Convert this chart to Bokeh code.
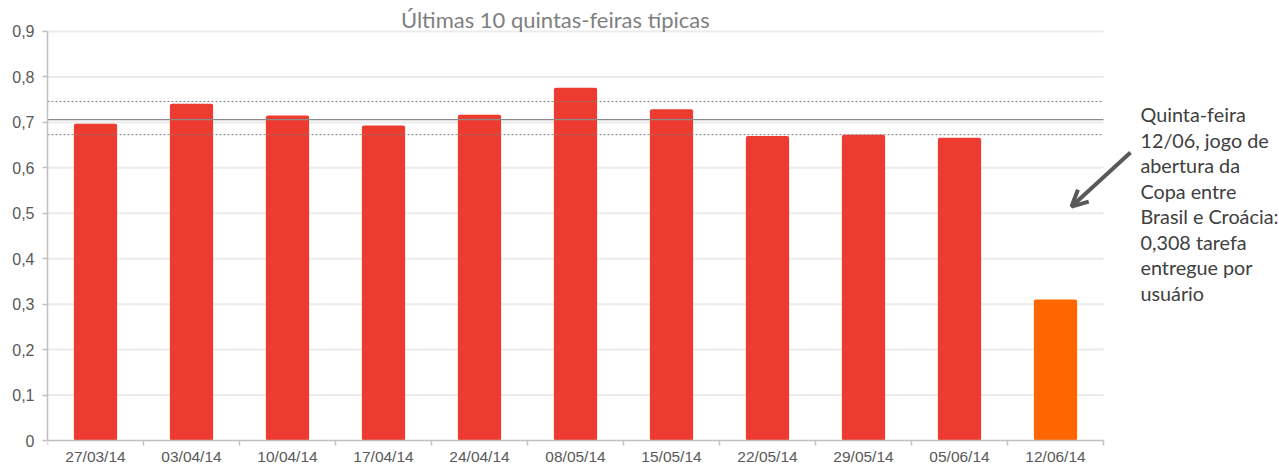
from bokeh.plotting import figure
from bokeh.models import (Range1d, FixedTicker, CustomJSTickFormatter,
                          Label, Arrow, OpenHead, ColumnDataSource)
from bokeh.embed import file_html
from bokeh.resources import INLINE

# ---- data ----
dates = ["27/03/14", "03/04/14", "10/04/14", "17/04/14", "24/04/14", "08/05/14",
         "15/05/14", "22/05/14", "29/05/14", "05/06/14", "12/06/14"]
values = [0.697, 0.741, 0.715, 0.693, 0.717, 0.776, 0.729, 0.670, 0.673, 0.666, 0.31]
bar_colors = ["#EE3B2F"] * 10 + ["#FF6600"]
mean_value = 0.706
upper_band = 0.746
lower_band = 0.673
y_ticks = [0, 0.1, 0.2, 0.3, 0.4, 0.5, 0.6, 0.7, 0.8, 0.9]
title_text = "Últimas 10 quintas-feiras típicas"
note_lines = ["Quinta-feira", "12/06, jogo de", "abertura da", "Copa entre",
              "Brasil e Croácia:", "0,308 tarefa", "entregue por", "usuário"]

n = len(dates)
y_max = y_ticks[-1]
centers = [i + 0.5 for i in range(n)]
src = ColumnDataSource(dict(x=centers, top=values, color=bar_colors))

p = figure(width=1279, height=467,
           x_range=Range1d(0, 1232 / 96), y_range=Range1d(-0.0594, 0.9682),
           output_backend="svg", toolbar_location=None,
           min_border_left=47, min_border_right=0, min_border_top=0,
           min_border_bottom=0)
p.outline_line_color = None
p.xgrid.visible = False
p.ygrid.visible = False

# grid lines (bounded to the plot area)
grid_y = [t for t in y_ticks if t > 0]
p.segment(x0=[0] * len(grid_y), x1=[n] * len(grid_y), y0=grid_y, y1=grid_y,
          line_color="#ebebeb", line_width=2)

# bars
p.vbar(x="x", top="top", width=0.45, bottom=0, fill_color="color",
       line_color=None, border_radius=2, source=src)

# reference lines
p.segment(x0=[0], x1=[n], y0=[mean_value], y1=[mean_value],
          line_color="#8c8c8c", line_width=1.3)
p.segment(x0=[0, 0], x1=[n, n], y0=[upper_band, lower_band],
          y1=[upper_band, lower_band], line_color="#7f7f7f", line_width=1,
          line_dash="2 2")

# x axis (fixed at y = 0, inside the frame)
xa = p.xaxis[0]
xa.fixed_location = 0
xa.bounds = (0, n)
xa.ticker = FixedTicker(ticks=centers, minor_ticks=list(range(n + 1)))
xa.formatter = CustomJSTickFormatter(args=dict(labels=dates),
                                     code="return labels[Math.floor(tick)];")
xa.major_tick_out = 0
xa.major_tick_in = 0
xa.minor_tick_out = 5
xa.minor_tick_in = 0
xa.minor_tick_line_color = "#c0c0c0"
xa.minor_tick_line_width = 1.5
xa.axis_line_color = "#c0c0c0"
xa.axis_line_width = 1.5
xa.major_label_standoff = 2
xa.major_label_text_font = "Liberation Sans"
xa.major_label_text_font_size = "15.5px"
xa.major_label_text_color = "#595959"

# y axis
ya = p.yaxis[0]
ya.bounds = (0, y_max)
ya.ticker = FixedTicker(ticks=y_ticks)
ya.formatter = CustomJSTickFormatter(
    code="return tick == 0 ? '0' : tick.toFixed(1).replace('.', ',');")
ya.major_tick_out = 5
ya.major_tick_in = 0
ya.minor_tick_line_color = None
ya.major_tick_line_color = "#c0c0c0"
ya.major_tick_line_width = 1.5
ya.axis_line_color = "#c0c0c0"
ya.axis_line_width = 1.5
ya.major_label_standoff = 8
ya.major_label_text_font = "Liberation Sans"
ya.major_label_text_font_size = "16px"
ya.major_label_text_color = "#595959"

# title
p.add_layout(Label(x=5.29, y=0.926, text=title_text, text_align="center",
                   text_baseline="middle", text_font="Lato",
                   text_font_size="22px", text_color="#7f7f7f"))

# annotation text
for k, line in enumerate(note_lines):
    p.add_layout(Label(x=11.385, y=0.7174 - k * 0.0561, text=line,
                       text_align="left", text_baseline="middle",
                       text_font="Lato", text_font_size="19.8px",
                       text_color="#404040"))

# arrow
p.add_layout(Arrow(end=OpenHead(size=16, line_width=4, line_color="#595959"),
                   x_start=11.281, y_start=0.6337, x_end=10.667, y_end=0.5149,
                   line_color="#595959", line_width=4))

open("out.html", "w").write(file_html(p, INLINE))
